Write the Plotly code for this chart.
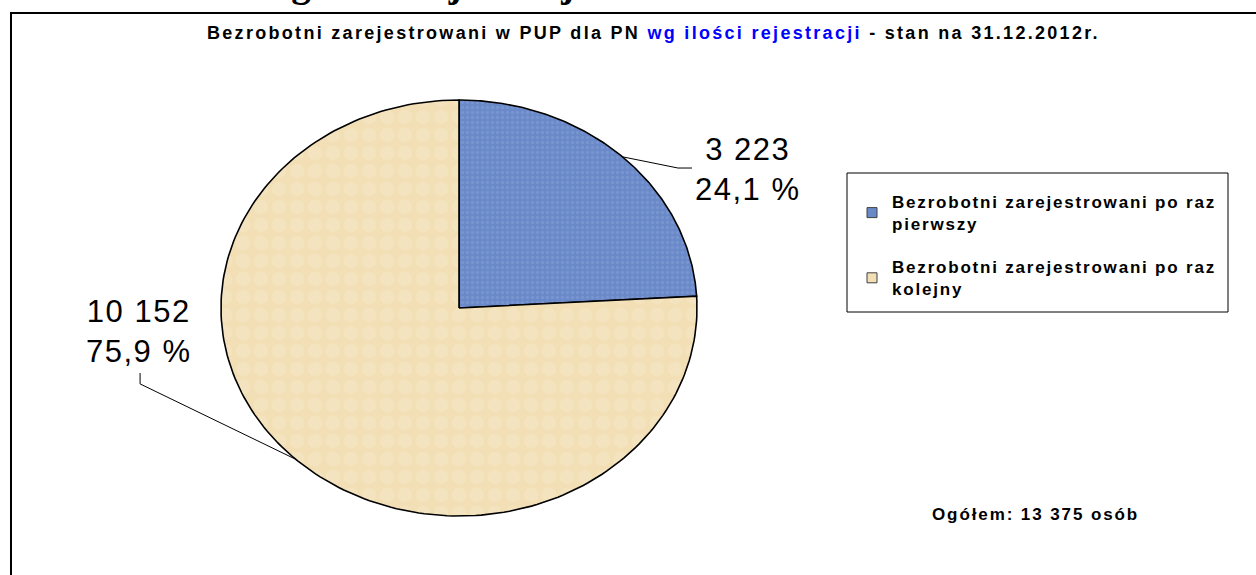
import numpy as np
import plotly.graph_objects as go

# ---------------- data ----------------
categories = ["Bezrobotni zarejestrowani po raz pierwszy",
              "Bezrobotni zarejestrowani po raz kolejny"]
legend_line1 = ["Bezrobotni zarejestrowani po raz", "Bezrobotni zarejestrowani po raz"]
legend_line2 = ["pierwszy", "kolejny"]
values = [3223, 10152]
title_part1 = "Bezrobotni zarejestrowani w PUP dla PN "
title_part2 = "wg ilości rejestracji"
title_part3 = " - stan na 31.12.2012r."
heading_text = "Bezrobotni wg ilości rejestracji"
total_prefix = "Ogółem: "
total_suffix = " osób"

# ---------------- style ----------------
colors = ["#6A89C9", "#F2DFB6"]
pattern_fg = ["#86A1D6", "#F6E7C8"]
pattern_size = [5, 18]
pattern_solid = [0.35, 0.5]
FONT = "Liberation Sans, Arial, sans-serif"

W, H = 1256, 575
cx, cy = 459, 308          # pie centre in px
rx, ry = 238, 208          # pie semi-axes in px
x_range = [(0 - cx) / rx, (W - cx) / rx]
y_range = [(cy - H) / ry, cy / ry]

# label centres (unit coords) and leader elbow points
label_pos = [(1.214, 0.668), (-1.345, -0.111)]
leader_pts = [[(0.920, 0.673), (0.979, 0.673)],
              [(-1.340, -0.365), (-1.340, -0.3125)]]


def fmt_int(n):
    return f"{n:,}".replace(",", " ")


def spaced(txt, px):
    return f"<span style='letter-spacing:{px}px'>{txt}</span>"


total = sum(values)
fracs = [v / total for v in values]

fig = go.Figure()

start = 0.0
mids = []
for i, (cat, f) in enumerate(zip(categories, fracs)):
    t = np.linspace(start, start + f, 200)
    ang = np.pi / 2 - 2 * np.pi * t
    xs = np.concatenate([[0], np.cos(ang), [0]])
    ys = np.concatenate([[0], np.sin(ang), [0]])
    fig.add_trace(go.Scatter(
        x=xs, y=ys, mode="lines", fill="toself",
        fillcolor=colors[i],
        fillpattern=dict(shape=".", bgcolor=colors[i], fgcolor=pattern_fg[i],
                         size=pattern_size[i], solidity=pattern_solid[i]),
        line=dict(color="black", width=1.6),
        hoverinfo="skip", showlegend=False, name=cat))
    mids.append(np.pi / 2 - 2 * np.pi * (start + f / 2))
    start += f

# leader lines and data labels
for i, v in enumerate(values):
    ex, ey = np.cos(mids[i]), np.sin(mids[i])
    px = [ex] + [p[0] for p in leader_pts[i]]
    py = [ey] + [p[1] for p in leader_pts[i]]
    fig.add_trace(go.Scatter(x=px, y=py, mode="lines",
                             line=dict(color="black", width=1),
                             hoverinfo="skip", showlegend=False))
    pct = f"{fracs[i] * 100:.1f}".replace(".", ",")
    fig.add_annotation(x=label_pos[i][0], y=label_pos[i][1], xref="x", yref="y",
                       text=spaced(fmt_int(v), 1.5) + "<br>" + spaced(f"{pct} %", 1.5),
                       showarrow=False,
                       font=dict(family=FONT, size=31, color="black"),
                       xanchor="center", yanchor="middle")

# legend entries
for i in range(len(values)):
    lab = ("<b>" + spaced(legend_line1[i], 1.8) + "<br>" +
           spaced(legend_line2[i], 1.8) + "</b>")
    fig.add_trace(go.Scatter(
        x=[None], y=[None], mode="markers", name=lab,
        legendgroup=f"g{i}",
        marker=dict(symbol="square", size=10, color=colors[i],
                    line=dict(color="#404040", width=1))))

title_html = ("<b>" + spaced(title_part1, 2.3) +
              f"<span style='color:#0000FF;letter-spacing:2.3px'>{title_part2}</span>" +
              spaced(title_part3, 2.3) + "</b>")
fig.add_annotation(x=653 / W, y=1 - 33 / H, xref="paper", yref="paper",
                   text=title_html, showarrow=False,
                   font=dict(family=FONT, size=18, color="black"),
                   xanchor="center", yanchor="middle")

# cut-off heading above the chart frame
fig.add_annotation(x=68 / W, y=1 - 7 / H, xref="paper", yref="paper",
                   text=f"<b>{heading_text}</b>", showarrow=False,
                   font=dict(family="Liberation Serif, Times New Roman, serif",
                             size=39, color="black"),
                   xanchor="left", yanchor="bottom")

fig.add_annotation(x=1035 / W, y=1 - 514 / H, xref="paper", yref="paper",
                   text="<b>" + spaced(f"{total_prefix}{fmt_int(total)}{total_suffix}", 1.9) + "</b>",
                   showarrow=False,
                   font=dict(family=FONT, size=17, color="black"),
                   xanchor="center", yanchor="middle")

# chart frame and legend frame
fig.add_shape(type="rect", xref="paper", yref="paper",
              x0=11 / W, x1=1.02, y0=-0.02, y1=1 - 13 / H,
              line=dict(color="black", width=2), layer="below")
fig.add_shape(type="rect", xref="paper", yref="paper",
              x0=847 / W, x1=1228 / W, y0=1 - 312 / H, y1=1 - 173 / H,
              line=dict(color="black", width=1), fillcolor="white", layer="below")

fig.update_layout(
    width=W, height=H,
    margin=dict(l=0, r=0, t=0, b=0),
    paper_bgcolor="white", plot_bgcolor="rgba(0,0,0,0)",
    xaxis=dict(range=x_range, visible=False, fixedrange=True, domain=[0, 1]),
    yaxis=dict(range=y_range, visible=False, fixedrange=True, domain=[0, 1]),
    showlegend=True,
    legend=dict(x=852 / W, y=1 - 184 / H, xanchor="left", yanchor="top",
                bgcolor="rgba(0,0,0,0)", borderwidth=0,
                traceorder="grouped", tracegroupgap=18,
                font=dict(family=FONT, size=17, color="black")),
)

fig.write_html("out.html", config={"displayModeBar": False},
               post_script="document.body.style.margin='0';")
